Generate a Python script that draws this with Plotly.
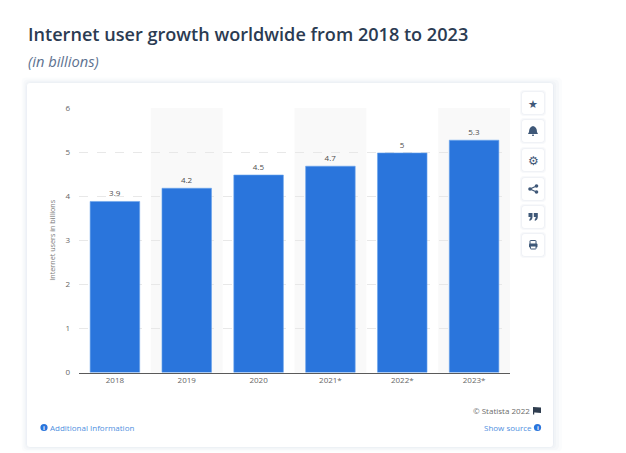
import plotly.graph_objects as go

W, H = 626, 453

years = ["2018", "2019", "2020", "2021*", "2022*", "2023*"]
# bar heights as measured against the grid, labels as printed on the chart
users = [3.88, 4.18, 4.48, 4.68, 4.98, 5.27]
user_labels = ["3.9", "4.2", "4.5", "4.7", "5", "5.3"]
y_ticks = [0, 1, 2, 3, 4, 5, 6]
title_text = "Internet user growth worldwide from 2018 to 2023"
subtitle_text = "(in billions)"
y_title = "Internet users in billions"
button_rows = [103, 131, 160, 189, 217, 245]
info_dots = [(44, 427.5), (537.5, 427.5)]


def px(x, y):
    # pixel position to paper coordinates
    return x / W, 1 - y / H


def rounded(x0, y0, x1, y1, r):
    pts = [
        f"M{x0 + r},{y0}", f"L{x1 - r},{y0}", f"Q{x1},{y0} {x1},{y0 + r}",
        f"L{x1},{y1 - r}", f"Q{x1},{y1} {x1 - r},{y1}", f"L{x0 + r},{y1}",
        f"Q{x0},{y1} {x0},{y1 - r}", f"L{x0},{y0 + r}", f"Q{x0},{y0} {x0 + r},{y0}", "Z",
    ]
    return to_paper(pts)


def to_paper(cmds):
    out = []
    for c in cmds:
        if c == "Z":
            out.append("Z")
            continue
        pairs = c[1:].split(" ")
        conv = []
        for p in pairs:
            a, b = p.split(",")
            u, v = px(float(a), float(b))
            conv.append(f"{u:.5f},{v:.5f}")
        out.append(c[0] + " ".join(conv))
    return " ".join(out)


def path_shape(cmds, fill, line=None, width=0):
    return dict(type="path", xref="paper", yref="paper", path=cmds, fillcolor=fill,
                line=dict(color=line or fill, width=width), layer="below")


def dot(cx, cy, r, color, layer="below"):
    return dict(type="circle", xref="paper", yref="paper", x0=(cx - r) / W, x1=(cx + r) / W,
                y0=1 - (cy + r) / H, y1=1 - (cy - r) / H, fillcolor=color,
                line=dict(width=0), layer=layer)


shapes = []

# card shadow, then card
for grow, alpha in [(9, 0.12), (6, 0.18), (3, 0.25), (1, 0.4)]:
    shapes.append(path_shape(rounded(27 - grow * 0.6, 83 - grow * 0.6, 553 + grow, 447 + grow * 0.5, 5),
                             f"rgba(226,231,240,{alpha})"))
shapes.append(path_shape(rounded(27, 83, 553, 447, 3), "white"))

# grey bands behind every second category
for i in [1, 3, 5]:
    shapes.append(dict(type="rect", xref="x", yref="paper", x0=i - 0.5, x1=i + 0.5,
                       y0=1 - 372.5 / H, y1=1 - 108 / H, fillcolor="#f9f9f9",
                       line=dict(width=0), layer="below"))

# side buttons
for cy in button_rows:
    for grow, alpha in [(2, 0.25), (1, 0.4)]:
        shapes.append(path_shape(rounded(522 - grow, cy - 11 - grow, 544 + grow, cy + 11 + grow, 4),
                                 f"rgba(228,232,240,{alpha})"))
    shapes.append(path_shape(rounded(522, cy - 11, 544, cy + 11, 3), "white"))

icon = "#3f5878"
# bell
cy = button_rows[1]
shapes.append(path_shape(to_paper([f"M533,{cy - 5}", f"Q537,{cy - 4} 537,{cy + 1}", f"L538,{cy + 3}",
                                   f"L528,{cy + 3}", f"L529,{cy + 1}", f"Q529,{cy - 4} 533,{cy - 5}", "Z"]), icon))
shapes.append(path_shape(rounded(532, cy + 3.5, 534, cy + 5, 0.7), icon))
# share
cy = button_rows[3]
shapes.append(path_shape(to_paper([f"M536.5,{cy - 3}", f"L530,{cy}", f"L536.5,{cy + 3}"]),
                         "rgba(0,0,0,0)", icon, 1.2))
for ax, ay in [(536.5, cy - 3), (530, cy), (536.5, cy + 3)]:
    shapes.append(dot(ax, ay, 1.8, icon, "above"))
# quotes
cy = button_rows[4]
for qx in [528.5, 533.8]:
    shapes.append(path_shape(to_paper([f"M{qx},{cy - 4}", f"L{qx + 4},{cy - 4}", f"L{qx + 4},{cy}",
                                       f"Q{qx + 4},{cy + 3} {qx + 1},{cy + 4}", f"L{qx + 1},{cy + 2}",
                                       f"Q{qx + 2},{cy + 1.5} {qx + 2},{cy}", f"L{qx},{cy}", "Z"]), icon))
# printer
cy = button_rows[5]
shapes.append(path_shape(rounded(530, cy - 4.5, 536, cy - 0.5, 0.5), "white", icon, 1))
shapes.append(path_shape(rounded(529, cy - 1.5, 537.5, cy + 2.5, 1), icon))
shapes.append(path_shape(rounded(530.5, cy + 1, 536, cy + 4, 0.5), "white", icon, 1))
# flag next to the copyright line
shapes.append(path_shape(to_paper(["M533,407", "L541,407.5", "L541,413", "L535,412.5", "L534.2,412.5", "L534.2,414.5",
                                   "L533,414.5", "Z"]), "#2f3d4f"))

for cx, cy in info_dots:
    shapes.append(dot(cx, cy, 3.6, "#2a75dc"))

fig = go.Figure()

fig.add_trace(go.Bar(
    x=list(range(len(years))), y=users,
    marker=dict(color="#2a75dc", line=dict(color="#6aa5ec", width=0.6)),
    width=0.69, text=user_labels, textposition="outside", cliponaxis=False,
    textfont=dict(family="Open Sans", size=8, color="#4d4d4d"),
    hoverinfo="skip", showlegend=False,
))


def add_label(x, y, text, size, color, anchor="left", **kw):
    u, v = px(x, y)
    fig.add_annotation(xref="paper", yref="paper", x=u, y=v, text=text, showarrow=False,
                       xanchor=anchor, yanchor="middle", borderpad=0,
                       font=dict(family="Open Sans", size=size, color=color, **kw))


add_label(27, 33.5, title_text, 18.1, "#2b3b52", weight=600)
add_label(27, 61, f"<i>{subtitle_text}</i>", 14.7, "#5d7290")
add_label(48.5, 427.5, "Additional Information", 8, "#4f8fe0")
add_label(533, 427.5, "Show source", 8, "#4f8fe0", anchor="right")
add_label(531, 410.5, "\u00a9 Statista 2022", 8, "#6b6b6b", anchor="right")
for cx, cy in info_dots:
    add_label(cx, cy, "<b>i</b>", 6, "white", anchor="center")
add_label(533, button_rows[0], "\u2605", 11, icon, anchor="center")
add_label(533, button_rows[2], "\u2699", 12, icon, anchor="center")

fig.update_layout(
    width=W, height=H,
    margin=dict(l=0, r=0, t=0, b=0),
    paper_bgcolor="white", plot_bgcolor="rgba(0,0,0,0)",
    shapes=shapes, bargap=0.31,
    xaxis=dict(
        domain=[79 / W, 510 / W], range=[-0.5, 5.5], automargin=False,
        tickmode="array", tickvals=list(range(len(years))), ticktext=years,
        tickfont=dict(family="Open Sans", size=8, color="#666666"),
        showgrid=False, zeroline=False, ticks="", ticklen=0,
        showline=True, linecolor="#5a5a5a", linewidth=1,
    ),
    yaxis=dict(
        domain=[1 - 372.5 / H, 1 - 108 / H], range=[0, 6], automargin=False,
        tickmode="array", tickvals=y_ticks, ticklabelstandoff=8,
        tickfont=dict(family="Open Sans", size=8, color="#666666"),
        showgrid=True, gridcolor="#e8e8e8", griddash="dash", gridwidth=1,
        zeroline=False, ticks="",
        title=dict(text=y_title, font=dict(family="Open Sans", size=7.2, color="#7a7a7a"), standoff=8),
    ),
)

fig.write_html("out.html", config=dict(displayModeBar=False),
               post_script="document.body.style.margin='0';")
